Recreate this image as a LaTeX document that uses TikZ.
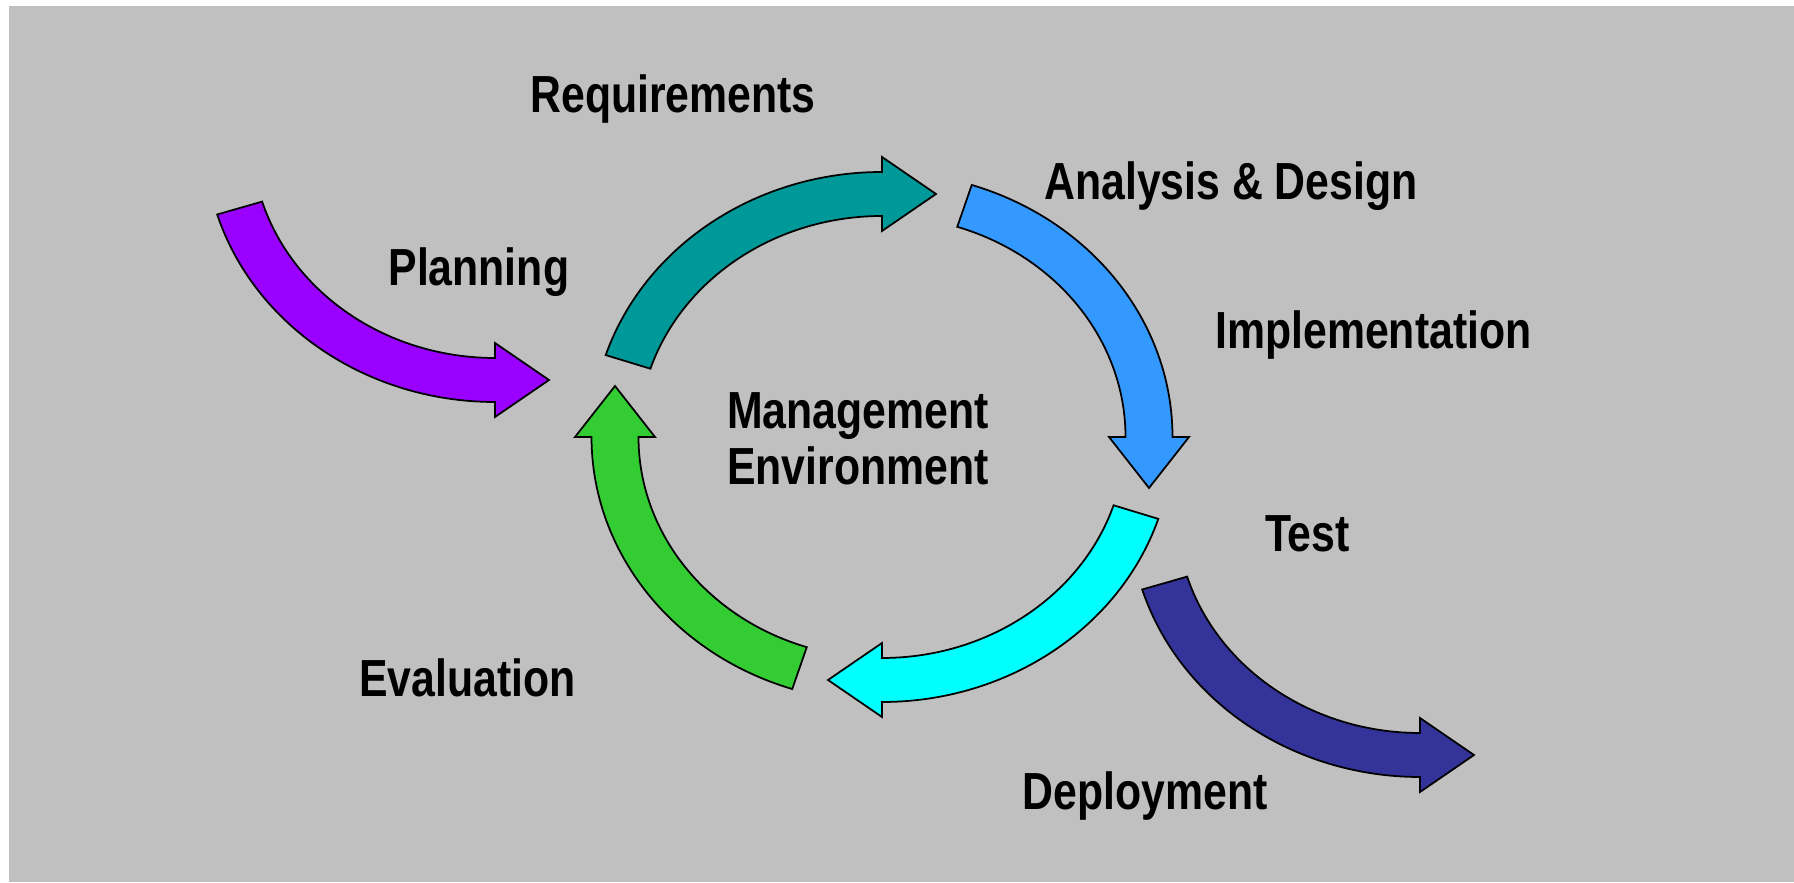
\documentclass[tikz,border=0pt]{standalone}
\usepackage{fontspec}
\setmainfont{Liberation Sans}[FakeStretch=0.82]
\usepackage{tikz}
\definecolor{bggray}{HTML}{C0C0C0}
\definecolor{reqteal}{HTML}{009999}
\definecolor{anablue}{HTML}{3399FF}
\definecolor{testcyan}{HTML}{00FFFF}
\definecolor{evalgreen}{HTML}{33CC33}
\definecolor{planpurple}{HTML}{9900FF}
\definecolor{depnavy}{HTML}{333399}
\tikzstyle{phase} = [
    inner sep=0pt, anchor=base,
    align=center,
    font=\fontsize{29.7}{32.1}\selectfont\bfseries]
\tikzstyle{blockarrow} = [draw=black, line width=1pt, line join=miter]
\tikzstyle{outer} = [x radius=290.5, y radius=265]
\tikzstyle{inner} = [x radius=243.5, y radius=221]

\begin{document}
\begin{tikzpicture}[x=0.02cm, y=0.02cm]
        \useasboundingbox (0,0) rectangle (1794,882);
        \fill[bggray] (9,0) rectangle (1794,876);

        % cycle
        \begin{scope}[shift={(882,445)}]
        \draw [blockarrow, fill=reqteal] (162:290.5 and 265) arc[outer, start angle=162, end angle=90]
            -- (0,280) -- (54,243) -- (0,206) -- (0,221) arc[inner, start angle=90, end angle=162] -- cycle;
        \draw [blockarrow, fill=anablue] (72:290.5 and 265) arc[outer, start angle=72, end angle=0]
            -- (307,0) -- (267,-51) -- (227,0) -- (243.5,0) arc[inner, start angle=0, end angle=72] -- cycle;
        \draw [blockarrow, fill=testcyan] (-18:290.5 and 265) arc[outer, start angle=-18, end angle=-90]
            -- (0,-280) -- (-54,-243) -- (0,-206) -- (0,-221) arc[inner, start angle=-90, end angle=-18] -- cycle;
        \draw [blockarrow, fill=evalgreen] (-108:290.5 and 265) arc[outer, start angle=-108, end angle=-180]
            -- (-307,0) -- (-267,51) -- (-227,0) -- (-243.5,0) arc[inner, start angle=-180, end angle=-108] -- cycle;
        \end{scope}

        % in and out
        \begin{scope}[shift={(495,745)}]
        \draw [blockarrow, fill=planpurple] (197:290.5 and 265) arc[outer, start angle=197, end angle=270]
            -- (0,-280) -- (54,-243) -- (0,-206) -- (0,-221) arc[inner, start angle=270, end angle=197] -- cycle;
        \end{scope}
        \begin{scope}[shift={(1420,370)}]
        \draw [blockarrow, fill=depnavy] (197:290.5 and 265) arc[outer, start angle=197, end angle=270]
            -- (0,-280) -- (54,-243) -- (0,-206) -- (0,-221) arc[inner, start angle=270, end angle=197] -- cycle;
        \end{scope}

        \node (lbl_requirements) [phase] at (673,769.7) {Requirements};
        \node (lbl_analysis) [phase] at (1231,682) {Analysis \& Design};
        \node (lbl_planning) [phase] at (478.8,596) {Planning};
        \node (lbl_implementation) [phase] at (1373.4,533.7) {Implementation};
        \node (lbl_management) [phase] at (858,397) {Management\\Environment};
        \node (lbl_test) [phase] at (1307.4,330.3) {Test};
        \node (lbl_evaluation) [phase] at (467.4,185.3) {Evaluation};
        \node (lbl_deployment) [phase] at (1145,72.7) {Deployment};
    \end{tikzpicture}
\end{document}
